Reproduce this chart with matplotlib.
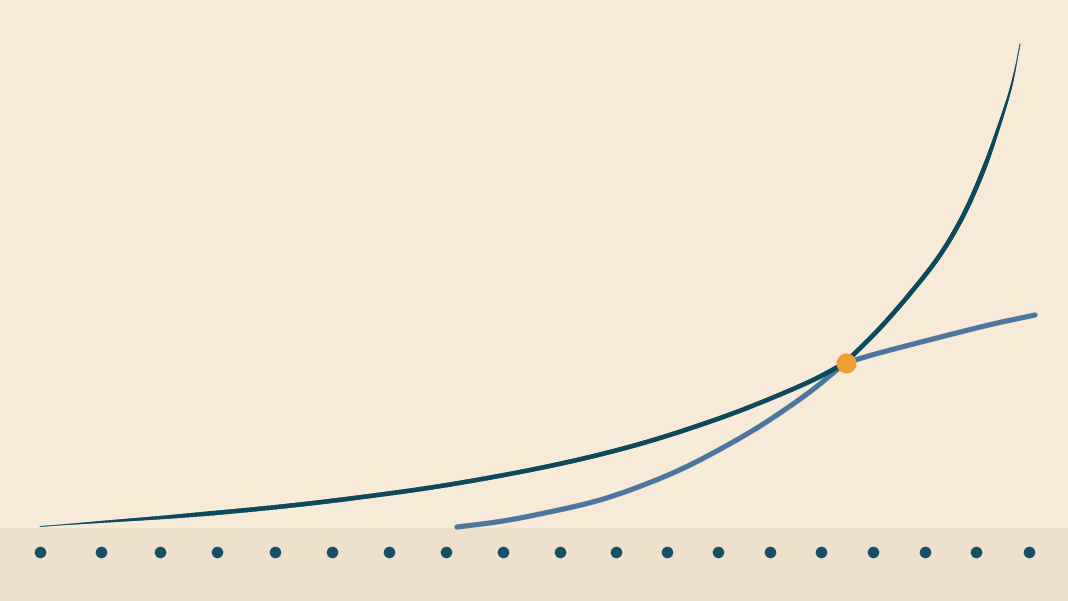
import numpy as np
import matplotlib
matplotlib.use("Agg")
import matplotlib.pyplot as plt
from matplotlib.collections import LineCollection

# ---- data (pixel-like coordinates) ----
dark_x = [40, 100, 180, 280, 360, 447, 540, 600, 650, 700, 747, 813, 845,
          880, 913, 940, 963, 983, 998, 1010, 1015, 1020]
dark_y = [526.5, 522, 516, 506.7, 497.3, 485, 468, 454.5, 441, 425, 408, 380, 363,
          328, 290, 255, 216, 171, 129, 91, 70, 44]

blue_x = [457, 500, 540, 600, 650, 690, 747, 780, 813, 845, 870, 927, 993, 1035]
blue_y = [527, 521.5, 514, 500, 482.5, 465, 434, 413, 389.5, 363, 355.5, 340.5, 324, 315]

cross_x = [845.5]
cross_y = [363]

tick_x = [40, 100.5, 159.5, 217, 274.5, 332, 389, 446, 503, 560, 615.5, 667, 718, 770,
          821, 873, 925, 976, 1028.5]
tick_y = [552] * len(tick_x)

# ---- style ----
BG = "#f7ead6"
STRIP = "#eee0ca"
DARK = "#0b4a5d"
BLUE = "#4a77a1"
ORANGE = "#f0a033"
DOT = "#15506a"
PX = 72 / 100.0  # points per pixel at dpi=100


def smooth_path(xs, ys, n=24, break_at=None):
    """Centripetal Catmull-Rom rendering path through the given points."""
    P = np.column_stack([xs, ys]).astype(float)
    pieces = [P] if break_at is None else [P[:break_at + 1], P[break_at:]]
    out = []
    for Q in pieces:
        Qe = np.vstack([2 * Q[0] - Q[1], Q, 2 * Q[-1] - Q[-2]])
        for i in range(1, len(Qe) - 2):
            p0, p1, p2, p3 = Qe[i - 1], Qe[i], Qe[i + 1], Qe[i + 2]
            t0 = 0.0
            t1 = t0 + np.linalg.norm(p1 - p0) ** 0.5
            t2 = t1 + np.linalg.norm(p2 - p1) ** 0.5
            t3 = t2 + np.linalg.norm(p3 - p2) ** 0.5
            t = np.linspace(t1, t2, n, endpoint=False)[:, None]
            a1 = (t1 - t) / (t1 - t0) * p0 + (t - t0) / (t1 - t0) * p1
            a2 = (t2 - t) / (t2 - t1) * p1 + (t - t1) / (t2 - t1) * p2
            a3 = (t3 - t) / (t3 - t2) * p2 + (t - t2) / (t3 - t2) * p3
            b1 = (t2 - t) / (t2 - t0) * a1 + (t - t0) / (t2 - t0) * a2
            b2 = (t3 - t) / (t3 - t1) * a2 + (t - t1) / (t3 - t1) * a3
            c = (t2 - t) / (t2 - t1) * b1 + (t - t1) / (t2 - t1) * b2
            out.append(c)
    out.append(P[-1][None, :])
    return np.vstack(out)


fig = plt.figure(figsize=(10.68, 6.01), dpi=100, facecolor=BG)
ax = fig.add_axes([0, 0, 1, 1])
ax.set_xlim(0, 1068)
ax.set_ylim(601, 0)
ax.set_facecolor(BG)
ax.axis("off")

ax.axhspan(528, 601, color=STRIP, lw=0, zorder=0)

# tapered dark curve
D = smooth_path(dark_x, dark_y, break_at=dark_x.index(845))
seg_len = np.hypot(np.diff(D[:, 0]), np.diff(D[:, 1]))
s = np.concatenate([[0], np.cumsum(seg_len)])
s_mid = (s[:-1] + s[1:]) / 2
S = s[-1]
full = 4.6
w = full * np.minimum(1.0, np.minimum(s_mid / 170.0, (S - s_mid) / 130.0)) ** 0.8
w = np.clip(w, 0.9, None)
pts = D.reshape(-1, 1, 2)
segs = np.concatenate([pts[:-1], pts[1:]], axis=1)
lc = LineCollection(segs, linewidths=w * PX, colors=DARK, capstyle="round",
                    joinstyle="round", zorder=3, antialiased=True)
ax.add_collection(lc)

# blue curve (kink at the crossing point)
B = smooth_path(blue_x, blue_y, break_at=blue_x.index(845))
ax.plot(B[:, 0], B[:, 1], color=BLUE, lw=5.2 * PX, solid_capstyle="round",
        solid_joinstyle="round", zorder=2)

# crossing point
ax.plot(cross_x, cross_y, "o", color=ORANGE, ms=20 * PX, mew=0, zorder=4)

# bottom dots
ax.plot(tick_x, tick_y, "o", color=DOT, ms=11.5 * PX, mew=0, ls="none", zorder=3)

fig.savefig("out.png", dpi=100, facecolor=BG)
